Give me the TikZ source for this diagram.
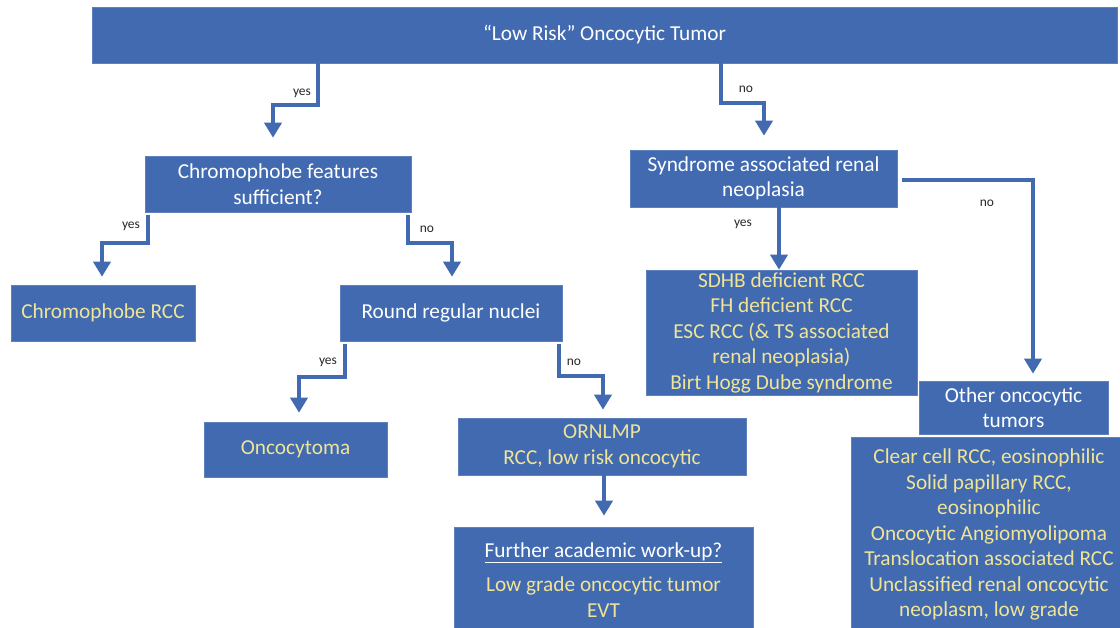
\documentclass[tikz,border=0pt]{standalone}
\usepackage{fontspec}
\setmainfont{Carlito}
\usetikzlibrary{arrows.meta,calc}
\definecolor{boxblue}{RGB}{65,106,177}
\definecolor{cream}{RGB}{240,228,150}
\definecolor{lblgray}{RGB}{40,40,40}
\tikzset{
  box/.style={rectangle, fill=boxblue, draw=boxblue!85!white, line width=0.6pt, inner sep=0pt, align=center,
    font=\fontsize{21.3}{25.5}\selectfont, text=white},
  ybox/.style={box, text=cream},
  arr/.style={draw=boxblue, line width=4pt, line join=miter, line cap=butt,
    -{Triangle[width=17pt,length=15pt]}},
  lbl/.style={font=\fontsize{13.5}{15}\selectfont, text=lblgray, inner sep=0pt},
}
\begin{document}
\begin{tikzpicture}[x=1pt,y=-1pt]
\clip (0,0) rectangle (1120,628);
\fill[white] (0,0) rectangle (1120,628);

% boxes
\node[box, minimum width=1025pt, minimum height=56pt] (top) at (604.5,35) {“Low Risk” Oncocytic Tumor};
\node[box, minimum width=266pt, minimum height=56pt] (chromo) at (278,184) {Chromophobe features\\sufficient?};
\node[ybox, minimum width=184pt, minimum height=56pt] (chrRCC) at (103,313) {Chromophobe RCC};
\node[box, minimum width=222pt, minimum height=56pt] (round) at (451,313) {Round regular nuclei};
\node[ybox, minimum width=183pt, minimum height=55pt] (onco) at (295.5,449.5) {Oncocytoma};
\node[ybox, minimum width=288pt, minimum height=57pt] (ornlmp) at (602,446.5) {ORNLMP\\RCC, low risk oncocytic};
\node[ybox, minimum width=299pt, minimum height=106pt] (further) at (603.5,580)
  {\textcolor{white}{\underline{Further academic work-up?}}\\[9pt]Low grade oncocytic tumor\\EVT};
\node[box, minimum width=267pt, minimum height=57pt] (synd) at (763.5,178.5) {Syndrome associated renal\\neoplasia};
\node[ybox, minimum width=271pt, minimum height=125pt] (sdhb) at (781.5,332.5)
  {SDHB deficient RCC\\FH deficient RCC\\ESC RCC (\& TS associated\\renal neoplasia)\\Birt Hogg Dube syndrome};
\node[box, minimum width=189pt, minimum height=53pt] (other) at (1013.5,407.5) {Other oncocytic\\tumors};
\node[ybox, minimum width=276pt, minimum height=195pt] (big) at (989,534.5)
  {Clear cell RCC, eosinophilic\\Solid papillary RCC,\\eosinophilic\\Oncocytic Angiomyolipoma\\Translocation associated RCC\\Unclassified renal oncocytic\\neoplasm, low grade};

% bend coordinates
\coordinate (a1) at (318,105);
\coordinate (a2) at (273,105);
\coordinate (b1) at (721,103);
\coordinate (b2) at (764,103);
\coordinate (c1) at (148,243);
\coordinate (c2) at (102,243);
\coordinate (d1) at (408,243);
\coordinate (d2) at (452,243);
\coordinate (e1) at (345,377);
\coordinate (e2) at (299,377);
\coordinate (f1) at (559,376);
\coordinate (f2) at (603,376);
\coordinate (g1) at (604,475);
\coordinate (h1) at (779,212);
\coordinate (i1) at (902,180);
\coordinate (i2) at (1033,180);

% connectors
\draw[arr, shorten >=18pt] ([yshift=4pt]top.south -| a1) -- (a1) -- (a2) -- (chromo.north -| a2);
\draw[arr, shorten >=14pt] ([yshift=4pt]top.south -| b1) -- (b1) -- (b2) -- (synd.north -| b2);
\draw[arr, shorten >=8pt] ([yshift=-3pt]chromo.south -| c1) -- (c1) -- (c2) -- (chrRCC.north -| c2);
\draw[arr, shorten >=8pt] ([yshift=-3pt]chromo.south -| d1) -- (d1) -- (d2) -- (round.north -| d2);
\draw[arr, shorten >=9pt] ([yshift=-3pt]round.south -| e1) -- (e1) -- (e2) -- (onco.north -| e2);
\draw[arr, shorten >=8pt] ([yshift=-3pt]round.south -| f1) -- (f1) -- (f2) -- (ornlmp.north -| f2);
\draw[arr, shorten >=11pt] (ornlmp.south -| g1) -- (further.north -| g1);
\draw[arr] ([yshift=5pt]synd.south -| h1) -- (sdhb.north -| h1);
\draw[arr, shorten >=7pt] ([xshift=5pt]synd.east |- i1) -- (i2) -- (other.north -| i2);

% labels
\node[lbl] (l1) at (302,93) {yes};
\node[lbl] (l2) at (746,89) {no};
\node[lbl] (l3) at (131,226) {yes};
\node[lbl] (l4) at (427,229) {no};
\node[lbl] (l5) at (328,362) {yes};
\node[lbl] (l6) at (574,362) {no};
\node[lbl] (l7) at (743,224) {yes};
\node[lbl] (l8) at (987,203) {no};
\end{tikzpicture}
\end{document}
